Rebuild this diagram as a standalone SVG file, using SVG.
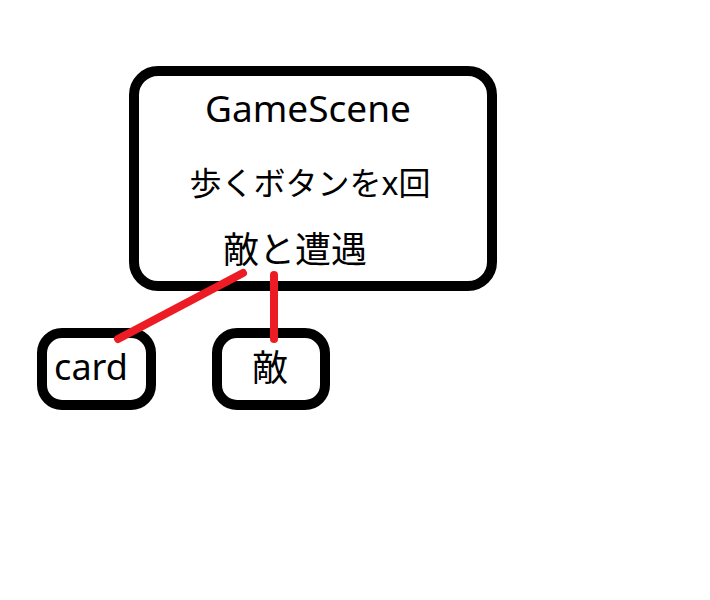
<svg xmlns="http://www.w3.org/2000/svg" width="710" height="600" viewBox="0 0 710 600">
<style>
.box{fill:#fff;stroke:#000;stroke-width:10}
.t{font-family:"Noto Sans","Noto Sans CJK JP",sans-serif;fill:#000;text-anchor:middle}
.edge{stroke:#ed1c24;stroke-width:8;stroke-linecap:round;fill:none}
</style>
<rect width="710" height="600" fill="#fff"/>
<g id="gamescene">
<rect class="box" x="134" y="71" width="358" height="215" rx="24"/>
<text class="t" x="308" y="122" font-size="37">GameScene</text>
<text class="t" x="310" y="195" font-size="32">歩くボタンをx回</text>
<text class="t" x="295" y="263" font-size="36">敵と遭遇</text>
</g>
<g id="card">
<rect class="box" x="42" y="333" width="109" height="72" rx="20"/>
<text class="t" x="91" y="380" font-size="36">card</text>
</g>
<g id="enemy">
<rect class="box" x="217" y="333" width="108" height="72" rx="20"/>
<text class="t" x="270" y="381" font-size="36">敵</text>
</g>
<g id="connectors">
<line class="edge" x1="243" y1="273" x2="118" y2="339"/>
<line class="edge" x1="274" y1="275" x2="274" y2="339"/>
</g>
</svg>
